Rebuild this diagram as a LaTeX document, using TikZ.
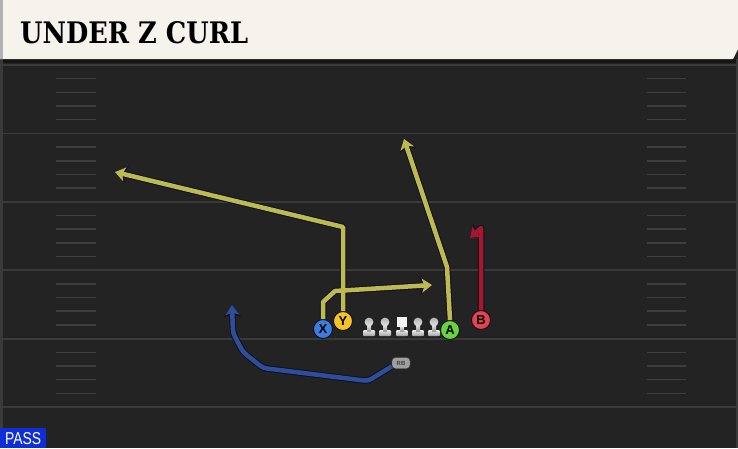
\documentclass[tikz,border=0pt]{standalone}
\usepackage{fontspec}
\setmainfont{Liberation Sans}
\newfontfamily\titlefont{DejaVu Serif}
\usetikzlibrary{arrows.meta}
\definecolor{field}{HTML}{232323}
\definecolor{cream}{HTML}{F5F3EC}
\definecolor{yardline}{HTML}{3A3A3A}
\definecolor{hash}{HTML}{3E3E3E}
\definecolor{rtyel}{HTML}{BDBA52}
\definecolor{rtred}{HTML}{A5172F}
\definecolor{rtblue}{HTML}{2C4E9B}
\definecolor{rtout}{HTML}{0F1020}
\definecolor{xcol}{HTML}{3B7DDD}
\definecolor{ycol}{HTML}{F5C422}
\definecolor{acol}{HTML}{66D43A}
\definecolor{bcol}{HTML}{E5424D}
\definecolor{passblue}{HTML}{0F2FD6}
\tikzset{
  player/.style={circle, draw=rtout, line width=0.9pt, minimum size=19pt, inner sep=0pt,
    font=\fontsize{13}{13}\selectfont\bfseries, text=black},
  rtback/.style={draw=rtout, line width=6.5pt, line join=round,
    -{Stealth[length=12pt,width=17pt,inset=3pt]}},
  rtfront/.style={draw=#1, line width=4.5pt, line join=round,
    -{Stealth[length=10pt,width=14pt,inset=2.5pt]}},
  yardl/.style={draw=yardline, line width=1.8pt},
  hashl/.style={draw=hash, line width=1.5pt},
  lineman/.pic={
    \shade[top color=white!85!gray, bottom color=gray!75!white, rounded corners=1pt] (-6,0) rectangle (6,-6);
    \shade[top color=white!85!gray, bottom color=gray!75!white] (-2,-5) rectangle (2,-12);
    \shade[top color=gray!60!white, bottom color=white!80!gray] (0,-14) circle (4.4);
  },
  centerman/.pic={
    \shade[top color=white!85!gray, bottom color=gray!75!white, rounded corners=1pt] (-6,0) rectangle (6,-6);
    \shade[top color=white!85!gray, bottom color=gray!75!white] (-2,-5) rectangle (2,-10);
    \fill[white!92!gray] (-5,-19) rectangle (5,-9);
  }
}
\begin{document}
\begin{tikzpicture}[x=1pt,y=-1pt]
\useasboundingbox (0,0) rectangle (738,448);
% field
\fill[field] (0,0) rectangle (738,448);
\fill[black!40!field] (0,59) rectangle (738,63);
\fill[yardline] (0,59) rectangle (2.5,448);
\fill[yardline] (736,59) rectangle (738,448);
% yard lines
\foreach \i in {0,...,5}{
  \draw[yardl] (2.5,65+68.4*\i) -- (736,65+68.4*\i);
}
% hash marks
\foreach \g in {0,...,4}{
  \foreach \k in {1,...,4}{
    \draw[hashl] (56,65+68.4*\g+13.68*\k) -- (96,65+68.4*\g+13.68*\k);
    \draw[hashl] (647,65+68.4*\g+13.68*\k) -- (686,65+68.4*\g+13.68*\k);
  }
}
% title bar
\fill[cream] (0,0) -- (738,0) -- (738,49) -- (733,59) -- (0,59) -- cycle;
\fill[gray!60] (0,0) rectangle (3,59);
\node[anchor=south west, inner sep=0pt] (title) at (20,44)
  {\resizebox{228pt}{22pt}{\titlefont\bfseries UNDER Z CURL}};
% linemen
\pic at (369,336) {lineman};
\pic at (385,336) {lineman};
\pic at (402,336) {centerman};
\pic at (418,336) {lineman};
\pic at (434,336) {lineman};
% players
\node[player, fill=xcol] (X) at (323,329) {X};
\node[player, fill=ycol] (Y) at (343,321) {Y};
\node[player, fill=acol] (A) at (450,330) {A};
\node[player, fill=bcol] (B) at (481,320) {B};
\node[draw=black!70, fill=gray!75, rounded corners=3.5pt, minimum width=18pt, minimum height=11pt,
  inner sep=0pt, font=\fontsize{6}{6}\selectfont\bfseries, text=black!75] (RB) at (401,363) {RB};
% waypoints
\coordinate (x1) at (323,302);
\coordinate (x2) at (335,291);
\coordinate (x3) at (432,285);
\coordinate (y1) at (343,227);
\coordinate (y2) at (115,172);
\coordinate (a1) at (447,267);
\coordinate (a2) at (404,139);
\coordinate (b1) at (481,228);
\coordinate (b2) at (470,238);
\coordinate (r1) at (368,381);
\coordinate (r2) at (263,368);
\coordinate (r3) at (243,352);
\coordinate (r4) at (233,333);
\coordinate (r5) at (232,305);
% routes (outline)
\draw[rtback] (X.north) -- (x1) -- (x2) -- (x3);
\draw[rtback] (Y.north) -- (y1) -- (y2);
\draw[rtback] (A.north) -- (a1) -- (a2);
\draw[rtback] (B.north) -- (b1) -- (b2);
\draw[rtback, rounded corners=4pt] (RB.200) -- (r1) -- (r2) -- (r3) -- (r4) -- (r5);
% routes (colour)
\draw[rtfront=rtyel] (X.north) -- (x1) -- (x2) -- (x3);
\draw[rtfront=rtyel] (Y.north) -- (y1) -- (y2);
\draw[rtfront=rtyel] (A.north) -- (a1) -- (a2);
\draw[rtfront=rtred] (B.north) -- (b1) -- (b2);
\draw[rtfront=rtblue, rounded corners=4pt] (RB.200) -- (r1) -- (r2) -- (r3) -- (r4) -- (r5);
% pass label
\fill[passblue] (0,428) rectangle (46,448);
\node[anchor=south west, inner sep=0pt, text=white] (pass) at (5,445)
  {\resizebox{36pt}{12pt}{PASS}};
\end{tikzpicture}
\end{document}
